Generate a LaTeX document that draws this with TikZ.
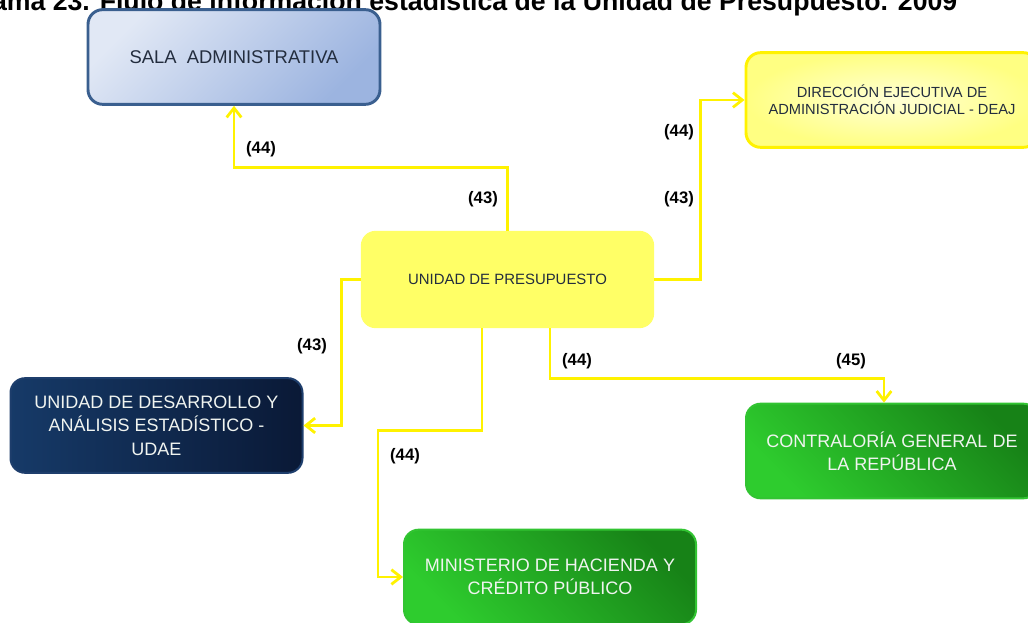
\documentclass[tikz,border=0pt]{standalone}
\usepackage{fontspec}
\setmainfont{Liberation Sans}
\usetikzlibrary{positioning,arrows.meta}
\definecolor{salalight}{RGB}{225,232,245}
\definecolor{saladark}{RGB}{156,180,224}
\definecolor{salaline}{RGB}{58,95,143}
\definecolor{deajin}{RGB}{255,255,214}
\definecolor{deajout}{RGB}{255,255,130}
\definecolor{upfill}{RGB}{255,255,102}
\definecolor{navyl}{RGB}{22,58,104}
\definecolor{navyr}{RGB}{10,25,54}
\definecolor{navyline}{RGB}{30,62,108}
\definecolor{greenl}{RGB}{46,204,46}
\definecolor{greend}{RGB}{23,130,23}
\definecolor{greenline}{RGB}{50,196,50}
\definecolor{ink}{RGB}{35,45,62}
\definecolor{paper}{RGB}{240,244,240}
\tikzset{
  box/.style={rounded corners=11pt,inner sep=0pt,minimum width=219pt,minimum height=71pt,align=center},
  bigtxt/.style={font=\fontsize{13.5}{17.5}\selectfont},
  flow/.style={draw=yellow,line width=2.1pt,-{Straight Barb[length=7pt,width=11pt]}},
  num/.style={font=\bfseries\fontsize{12.5}{14}\selectfont}
}
\begin{document}
\begin{tikzpicture}[x=0.75pt,y=-0.75pt]
  \useasboundingbox (0,0) rectangle (1028,623);
  \node[anchor=base east,font=\bfseries\fontsize{20}{24}\selectfont] (title) at (962,11) {ama 23. Flujo de información estadística de la Unidad de Presupuesto. 2009};
  \node[box,draw=salaline,line width=2.2pt,top color=salalight,bottom color=saladark,shading angle=45,text=ink,font=\fontsize{13.8}{16}\selectfont] (sala) at (234,57) {SALA\ \ ADMINISTRATIVA};
  \node[box,draw=yellow,line width=2.2pt,inner color=deajin,outer color=deajout,text=ink,font=\fontsize{11}{12.8}\selectfont] (deaj) at (892,100) {DIRECCIÓN EJECUTIVA DE\\ADMINISTRACIÓN JUDICIAL - DEAJ};
  \node[box,fill=upfill,minimum width=220pt,minimum height=73pt,text=ink,font=\fontsize{11.2}{13}\selectfont] (up) at (507.5,279.5) {UNIDAD DE PRESUPUESTO};
  \node[box,bigtxt,draw=navyline,line width=1.5pt,left color=navyl,right color=navyr,text=paper] (udae) at (156.5,425.5) {UNIDAD DE DESARROLLO Y\\ANÁLISIS ESTADÍSTICO -\\UDAE};
  \node[box,bigtxt,draw=greenline,line width=1.5pt,top color=greend,bottom color=greenl,shading angle=-45,text=paper] (cgr) at (892,451) {CONTRALORÍA GENERAL DE\\LA REPÚBLICA};
  \node[box,bigtxt,draw=greenline,line width=1.5pt,top color=greend,bottom color=greenl,shading angle=-45,text=paper] (mhcp) at (550,577) {MINISTERIO DE HACIENDA Y\\CRÉDITO PÚBLICO};
  \draw[flow] (up.north) -- ++(0,-63) -| (sala.south);
  \draw[flow] (up.east) -- ++(46,0) |- (deaj.west);
  \draw[flow] (up.west) -- ++(-19,0) |- (udae.east);
  \draw[flow] (up.south) ++(-25.5,0) -- ++(0,102) -- ++(-104,0) |- (mhcp.west);
  \draw[flow] (up.south) ++(42.5,0) -- ++(0,50) -| ([xshift=-6pt]cgr.north);
  \foreach \x/\y/\t [count=\i] in {261/149/44,483/199/43,679/132/44,679/199/43,312/346/43,405/456/44,577/361/44,851/361/45}
    \node[num] (n\i) at (\x,\y) {(\t)};
\end{tikzpicture}
\end{document}
